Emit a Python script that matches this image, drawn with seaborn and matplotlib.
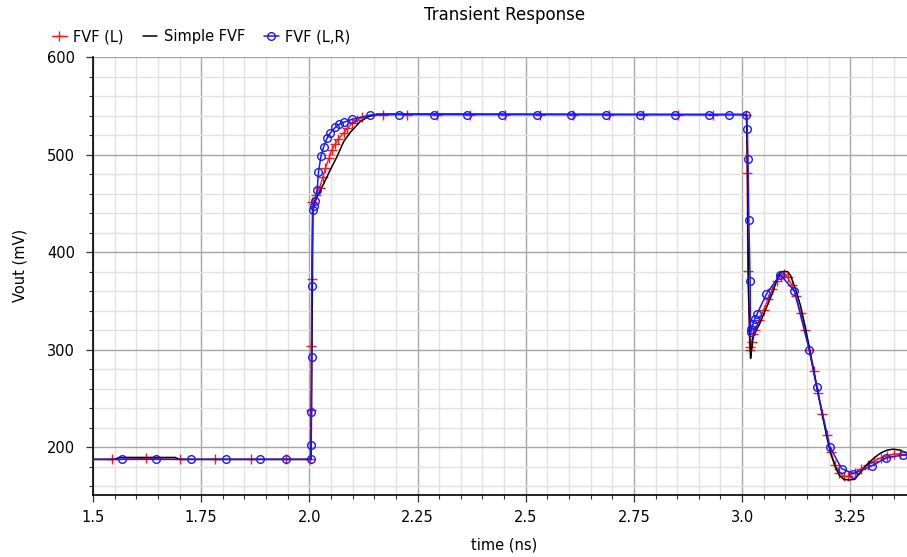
import matplotlib
matplotlib.use("Agg")
import matplotlib.pyplot as plt
from matplotlib.ticker import MultipleLocator
import seaborn as sns
import pandas as pd

# FVF (L): simulated output, time in ns, voltage in mV
fvf_l_t = [1.45, 1.543, 1.623, 1.702, 1.783, 1.864, 1.945, 2.002,
           2.0035, 2.0045, 2.0055, 2.007, 2.016, 2.024, 2.031, 2.037, 2.045,
           2.052, 2.060, 2.067, 2.079, 2.088, 2.098, 2.110, 2.121, 2.169,
           2.226, 2.294, 2.371, 2.452, 2.533, 2.610, 2.692, 2.771, 2.851,
           2.933, 3.010, 3.0118, 3.013, 3.0175, 3.019, 3.022, 3.026, 3.030,
           3.040, 3.050, 3.060, 3.070, 3.080, 3.090, 3.097, 3.105, 3.115,
           3.125, 3.135, 3.145, 3.155, 3.165, 3.175, 3.185, 3.195, 3.205,
           3.215, 3.225, 3.235, 3.245, 3.260, 3.275, 3.290, 3.305, 3.320,
           3.335, 3.350, 3.365, 3.380, 3.395]
fvf_l_v = [187.5, 187.5, 188.5, 187.5, 187.5, 187.5, 187.5, 187.5,
           238, 304, 372, 451, 459, 466, 477, 486, 496,
           505, 511, 516, 522, 527, 532, 535, 538, 541,
           541, 541, 541, 541, 541, 541, 541, 541, 541,
           541, 541, 481, 381, 303, 300, 308, 316, 320,
           330, 341, 352, 362, 370, 376, 378, 374, 366,
           355, 338, 320, 300, 278, 256, 234, 213, 195,
           182, 174, 170, 170, 174, 178, 182, 186, 189,
           191, 193, 193, 192, 191]

# Simple FVF: simulated output, drawn as a plain line
simple_t = [1.45, 1.55, 1.56, 1.69, 1.70, 2.004, 2.006, 2.008, 2.012,
            2.018, 2.033, 2.048, 2.064, 2.079, 2.095, 2.118, 2.137, 2.156,
            2.30, 2.90, 3.0105, 3.0125, 3.0135, 3.015, 3.0175, 3.0195,
            3.022, 3.025, 3.041, 3.057, 3.072, 3.083, 3.090, 3.105, 3.112,
            3.125, 3.135, 3.145, 3.155, 3.165, 3.175, 3.185, 3.195, 3.205,
            3.215, 3.225, 3.235, 3.245, 3.260, 3.275, 3.290, 3.305, 3.320,
            3.335, 3.350, 3.365, 3.380, 3.395]
simple_v = [187.5, 187.5, 189.5, 189.5, 187.5, 187.5, 300, 440, 452,
            457, 470, 484, 498, 513, 523, 534, 539, 541.5,
            541.5, 541, 541, 480, 420, 360, 320, 291,
            300, 313, 327, 344, 360, 376, 380, 380, 376,
            360, 345, 325, 303, 280, 257, 234, 212, 193,
            180, 171, 167, 166.5, 167, 175, 183, 189, 194,
            197, 198, 197, 194, 192]

# FVF (L,R): simulated output
fvf_lr_t = [1.485, 1.566, 1.645, 1.726, 1.807, 1.887, 1.945, 2.003,
            2.004, 2.0045, 2.005, 2.0055, 2.008, 2.011, 2.014, 2.018, 2.021,
            2.027, 2.033, 2.041, 2.048, 2.060, 2.069, 2.079, 2.098, 2.141,
            2.206, 2.287, 2.364, 2.445, 2.526, 2.604, 2.686, 2.764, 2.845,
            2.924, 2.970, 3.009, 3.012, 3.0135, 3.0155, 3.0185, 3.0195,
            3.0215, 3.025, 3.029, 3.035, 3.056, 3.088, 3.121, 3.155, 3.172,
            3.203, 3.230, 3.257, 3.300, 3.333, 3.372, 3.400]
fvf_lr_v = [187.5, 187.5, 187.5, 187.5, 187.5, 187.5, 187.5, 187.5,
            202, 236, 292, 365, 443, 447, 452, 464, 482,
            499, 508, 517, 522, 528, 531, 533, 536, 540.5,
            541, 541, 541, 541, 541, 541, 541, 541, 541,
            541, 541, 541, 526, 495, 433, 370, 318,
            321, 326, 331, 337, 357, 377, 360, 300, 262,
            200, 178, 173, 181, 189, 192, 191]

x_ticks = [1.5, 1.75, 2.0, 2.25, 2.5, 2.75, 3.0, 3.25]
x_tick_labels = ["1.5", "1.75", "2.0", "2.25", "2.5", "2.75", "3.0", "3.25"]
y_ticks = [200, 300, 400, 500, 600]

RED = "#ff1a1a"
BLUE = "#1a1aff"

sns.set_theme(style="white")
plt.rcParams["font.family"] = ["DejaVu Sans"]
plt.rcParams["text.color"] = "black"
plt.rcParams["axes.labelcolor"] = "black"
plt.rcParams["xtick.color"] = "black"
plt.rcParams["ytick.color"] = "black"

fig = plt.figure(figsize=(9.07, 5.57), dpi=100)
ax = fig.add_axes([93 / 907, 1 - 495 / 557, 814 / 907, 438 / 557])

df_l = pd.DataFrame({"t": fvf_l_t, "v": fvf_l_v})
df_s = pd.DataFrame({"t": simple_t, "v": simple_v})
df_lr = pd.DataFrame({"t": fvf_lr_t, "v": fvf_lr_v})

sns.lineplot(data=df_l, x="t", y="v", ax=ax, sort=False, estimator=None,
             color=RED, linewidth=1.0, marker="+", markersize=6.5,
             markeredgecolor=RED, markeredgewidth=1.0,
             label="FVF (L)", zorder=3)
sns.lineplot(data=df_s, x="t", y="v", ax=ax, sort=False, estimator=None,
             color="black", linewidth=1.1, label="Simple FVF", zorder=4)
sns.lineplot(data=df_lr, x="t", y="v", ax=ax, sort=False, estimator=None,
             color=BLUE, linewidth=1.1, marker="o", markersize=5.5,
             markerfacecolor="none", markeredgecolor=BLUE,
             markeredgewidth=1.0, label="FVF (L,R)", zorder=5)

ax.set_xlim(1.5, 3.381)
ax.set_ylim(151, 600)
ax.set_xticks(x_ticks)
ax.set_xticklabels(x_tick_labels)
ax.set_yticks(y_ticks)
ax.xaxis.set_minor_locator(MultipleLocator(0.05))
ax.yaxis.set_minor_locator(MultipleLocator(20))

ax.grid(which="major", color="#a6a6a6", linewidth=1.0)
ax.grid(which="minor", color="#e2e2e2", linewidth=1.0)
ax.set_axisbelow(True)

for side in ("top", "right"):
    ax.spines[side].set_visible(False)
for side in ("left", "bottom"):
    ax.spines[side].set_color("black")
    ax.spines[side].set_linewidth(1.2)

ax.tick_params(which="major", direction="out", length=5, width=0.9,
               color="#333333", labelsize=10.5, labelcolor="black", pad=6,
               left=True, bottom=True)
ax.tick_params(which="minor", direction="out", length=3, width=0.8,
               color="#333333", left=True, bottom=True)
ax.tick_params(axis="y", which="major", pad=8)

ax.set_xlabel("time (ns)", fontsize=10.5, color="black")
ax.set_ylabel("Vout (mV)", fontsize=10.5, color="black")
ax.xaxis.set_label_coords(0.505, -0.097)
ax.yaxis.set_label_coords(-0.08, 0.525)

fig.text(505 / 907, 1 - 15 / 557, "Transient Response", ha="center",
         va="center", fontsize=12, color="black")

leg = ax.legend(loc="center left", bbox_to_anchor=(52 / 907, 1 - 37 / 557),
                bbox_transform=fig.transFigure, ncol=3, frameon=False,
                fontsize=10.5, handlelength=1.0, handletextpad=0.45,
                columnspacing=1.3, borderpad=0, borderaxespad=0)
for text in leg.get_texts():
    text.set_color("black")

fig.savefig("out.png", dpi=100)
